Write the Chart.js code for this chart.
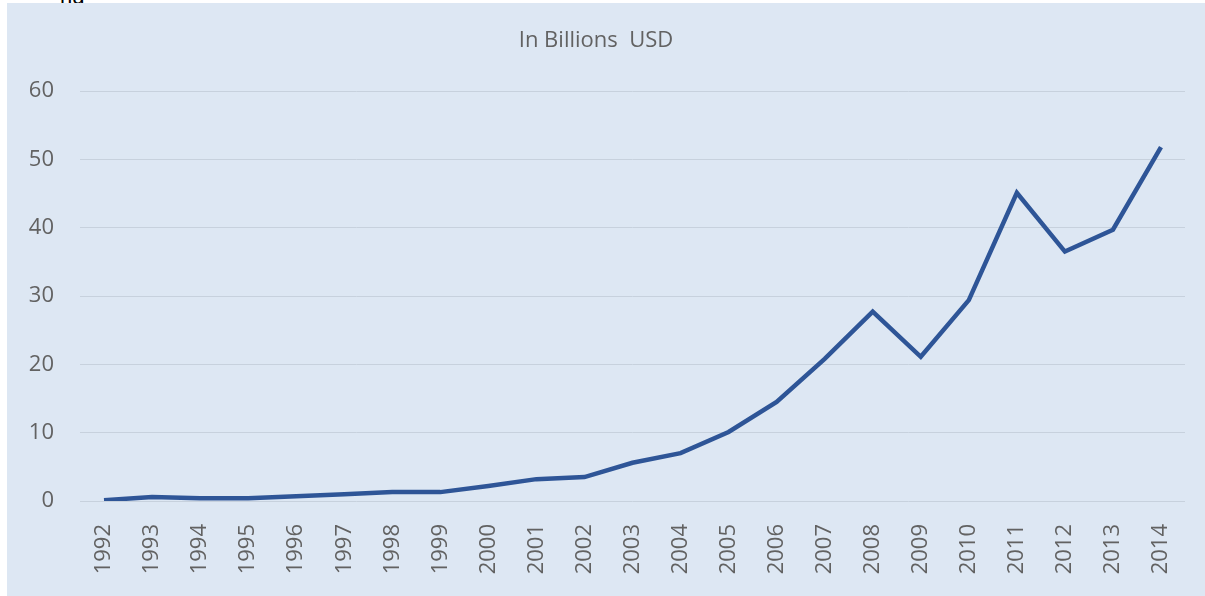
<!DOCTYPE html>
<html>
<head>
<meta charset="utf-8">
<script src="https://cdn.jsdelivr.net/npm/chart.js@4"></script>
<style>
  body { margin: 0; background: #fff; width: 1205px; height: 596px; overflow: hidden; position: relative; }
  .cut { position: absolute; left: 60px; top: -16px; font: 22px "Liberation Sans", Arial, sans-serif; color: #000; }
  .panel { position: absolute; left: 7px; top: 3px; width: 1198px; height: 593px; background: #dde7f3; }
</style>
</head>
<body>
<div class="cut">ng</div>
<div class="panel"><canvas id="chart" width="1198" height="593"></canvas></div>
<script>
/* data */
const years = ['1992', '1993', '1994', '1995', '1996', '1997', '1998', '1999', '2000', '2001', '2002',
  '2003', '2004', '2005', '2006', '2007', '2008', '2009', '2010', '2011', '2012', '2013', '2014']
const values = [0.1, 0.6, 0.4, 0.4, 0.7, 1.0, 1.3, 1.3, 2.2, 3.2, 3.5,
  5.6, 7.0, 10.1, 14.5, 20.8, 27.7, 21.1, 29.4, 45.1, 36.5, 39.7, 51.8]
const yTicks = [0, 10, 20, 30, 40, 50, 60]

const textColor = '#626262'

const ctx = document.querySelector('#chart').getContext('2d')
const myChart = new Chart(ctx, {
  type: 'line',
  data: {
    labels: years,
    datasets: [{
      label: 'In Billions USD',
      data: values,
      borderColor: '#2e5597',
      borderWidth: 4.5,
      pointRadius: 0,
      tension: 0,
      fill: false
    }]
  },
  options: {
    responsive: false,
    animation: false,
    layout: { padding: { left: 0, right: 20, top: 0, bottom: 0 } },
    plugins: {
      legend: { display: false },
      tooltip: { enabled: false },
      title: {
        display: true,
        text: 'In Billions  USD',
        color: textColor,
        font: { family: 'Open Sans', size: 22, weight: 'normal' },
        padding: { top: 25, bottom: 36.6 }
      }
    },
    scales: {
      x: {
        offset: true,
        grid: { display: false },
        border: { display: false },
        ticks: {
          color: textColor,
          font: { family: 'Open Sans', size: 22 },
          minRotation: 90,
          maxRotation: 90,
          autoSkip: false,
          padding: 15
        },
        afterFit: (scale) => { scale.height = 95 }
      },
      y: {
        min: 0,
        max: 60,
        afterBuildTicks: (scale) => { scale.ticks = yTicks.map(v => ({ value: v })) },
        grid: { color: '#c7d1dd', lineWidth: 1, drawTicks: false },
        border: { display: false },
        ticks: {
          color: textColor,
          font: { family: 'Open Sans', size: 22 },
          padding: 26
        },
        afterFit: (scale) => { scale.width = 73 }
      }
    }
  }
})
</script>
</body>
</html>
